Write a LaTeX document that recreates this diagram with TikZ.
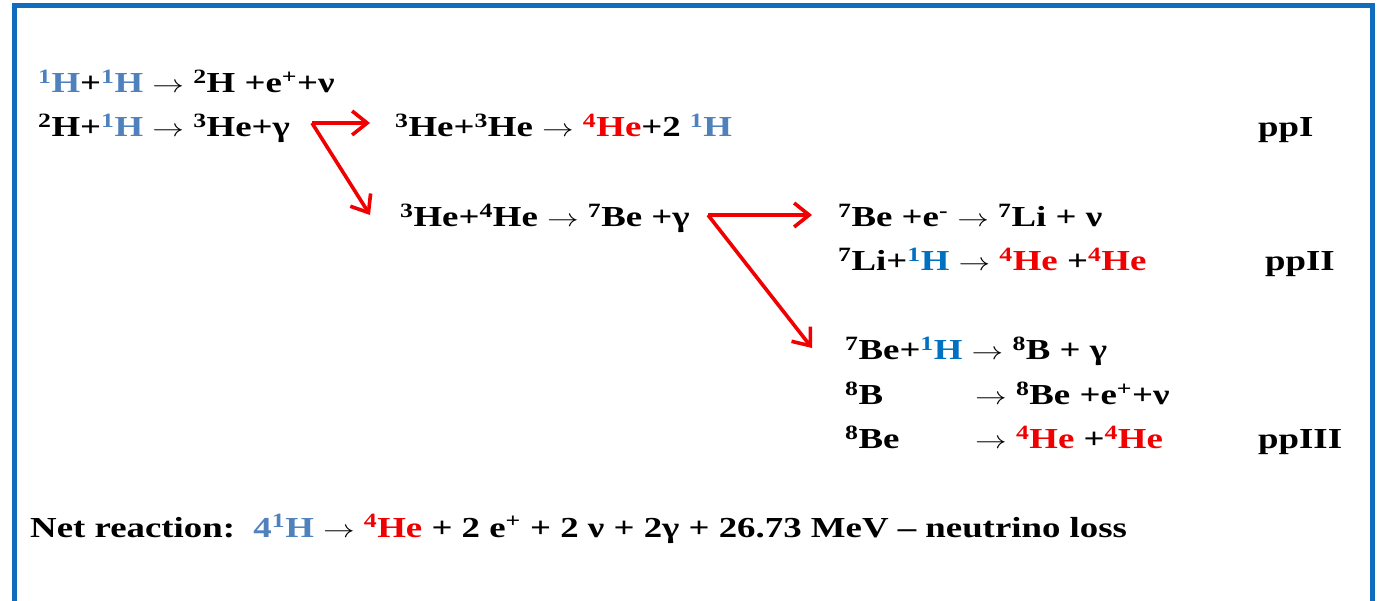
\documentclass[tikz,border=0pt]{standalone}
\usepackage{fontspec}
\setmainfont[FakeStretch=1.27]{Liberation Serif}
\usepackage{xcolor}
\usetikzlibrary{arrows.meta,positioning}
\definecolor{frameblue}{RGB}{18,108,190}
\definecolor{pblue}{RGB}{79,129,189}
\definecolor{hblue}{RGB}{0,112,192}
\definecolor{hered}{RGB}{240,0,0}
\newcommand{\iso}[2]{\textsuperscript{#1}#2}
\newcommand{\ra}{\scalebox{1.27}[1]{$\rightarrow$}}

\begin{document}
\begin{tikzpicture}[x=1pt, y=-1pt,
    rx/.style={anchor=base west, inner sep=0pt, font=\fontsize{29}{34}\selectfont\bfseries},
    flow/.style={draw=hered, line width=3.6pt, -{Straight Barb[length=15pt,width=24pt,line width=3.6pt]}}
  ]
    \useasboundingbox (0,0) rectangle (1379,601);
    \draw[frameblue, line width=5pt] (14.5,5.5) rectangle (1372,603.5);

    % ppI chain
    \node[rx] (r1) at (38,93) {{\color{pblue}\iso{1}{H}}+{\color{pblue}\iso{1}{H}} \ra{} \iso{2}{H} +e\textsuperscript{+}+ν};
    \node[rx] (r2) at (38,137) {\iso{2}{H}+{\color{pblue}\iso{1}{H}} \ra{} \iso{3}{He}+γ};
    \node[rx] (r3) at (395,137) {\iso{3}{He}+\iso{3}{He} \ra{} {\color{hered}\iso{4}{He}}+2 {\color{pblue}\iso{1}{H}}};
    \node[rx] (ppI) at (1258,137) {ppI};

    % ppII chain
    \node[rx] (r4) at (400,227) {\iso{3}{He}+\iso{4}{He} \ra{} \iso{7}{Be} +γ};
    \node[rx] (r5) at (838,227) {\iso{7}{Be} +e\textsuperscript{-} \ra{} \iso{7}{Li} + ν};
    \node[rx] (r6) at (838,271) {\iso{7}{Li}+{\color{hblue}\iso{1}{H}} \ra{} {\color{hered}\iso{4}{He}} +{\color{hered}\iso{4}{He}}};
    \node[rx] (ppII) at (1265,271) {ppII};

    % ppIII chain
    \node[rx] (r7) at (845,360) {\iso{7}{Be}+{\color{hblue}\iso{1}{H}} \ra{} \iso{8}{B} + γ};
    \node[rx] (r8) at (845,405) {\iso{8}{B}};
    \node[rx] (r8b) at (975,405) {\ra{} \iso{8}{Be} +e\textsuperscript{+}+ν};
    \node[rx] (r9) at (845,449) {\iso{8}{Be}};
    \node[rx] (r9b) at (975,449) {\ra{} {\color{hered}\iso{4}{He}} +{\color{hered}\iso{4}{He}}};
    \node[rx] (ppIII) at (1258,449) {ppIII};

    % net
    \node[rx] (net) at (30,537) {Net reaction:\ \ {\color{pblue}4\iso{1}{H}} \ra{} {\color{hered}\iso{4}{He}} + 2 e\textsuperscript{+} + 2 ν + 2γ + 26.73 MeV – neutrino loss};

    % branch arrows
    \coordinate (fork1) at (312,123);
    \coordinate (tip1) at (370,123);
    \coordinate (tip2) at (370,215);
    \coordinate (fork2) at (708,215);
    \coordinate (tip3) at (812,215);
    \coordinate (tip4) at (812,348);
    \draw[flow] (fork1) -- (tip1);
    \draw[flow] (fork1) -- (tip2);
    \draw[flow] (fork2) -- (tip3);
    \draw[flow] (fork2) -- (tip4);
\end{tikzpicture}
\end{document}
